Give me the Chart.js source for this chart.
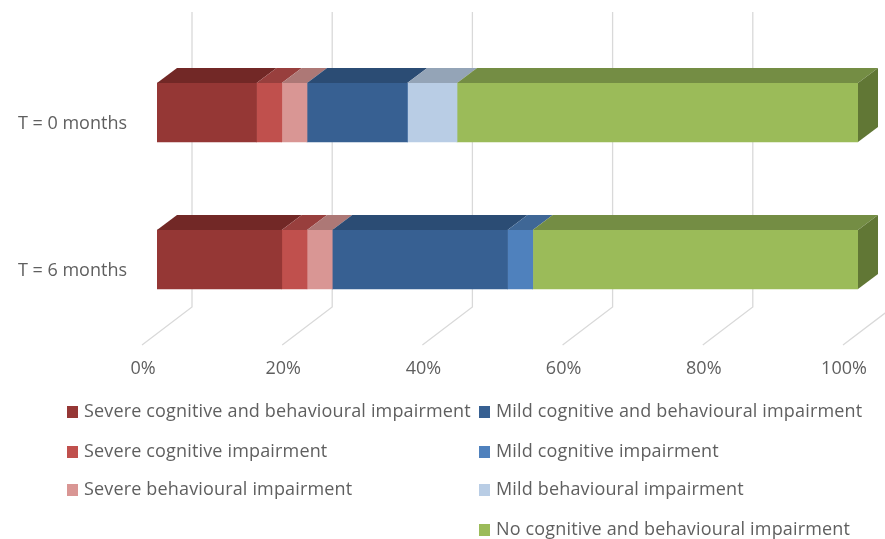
<!DOCTYPE html>
<html>
<head>
<meta charset="utf-8">
<title>Impairment at T = 0 and T = 6 months</title>
<script src="https://cdn.jsdelivr.net/npm/chart.js@4"></script>
<style>
  html, body { margin: 0; padding: 0; background: #fff; }
  #wrap { position: relative; width: 885px; height: 539px; overflow: hidden; }
  #chart { position: absolute; left: 0; top: 0; }
  .key { position: absolute; white-space: nowrap; font: 18px "Open Sans", sans-serif; letter-spacing: 0.16px; color: #5f5f5f; line-height: 20px; }
  .key i { position: absolute; left: -17px; top: 6px; width: 11px; height: 12px; }
</style>
</head>
<body>
<div id="wrap">
  <canvas id="chart" width="885" height="539"></canvas>
</div>
<script>
const categories = ['T = 0 months', 'T = 6 months'];
const tickLabels = ['0%', '20%', '40%', '60%', '80%', '100%'];

const severeBoth = [14.2, 17.8];
const severeCognitive = [3.6, 3.6];
const severeBehavioural = [3.6, 3.6];
const mildBoth = [14.3, 25.0];
const mildCognitive = [0, 3.6];
const mildBehavioural = [7.1, 0];
const noImpairment = [57.2, 46.4];

// label, values, front colour, top face colour
const series = [
  ['Severe cognitive and behavioural impairment', severeBoth, '#953735', '#722826'],
  ['Severe cognitive impairment', severeCognitive, '#c0504d', '#983f3d'],
  ['Severe behavioural impairment', severeBehavioural, '#d99694', '#ad7876'],
  ['Mild cognitive and behavioural impairment', mildBoth, '#376092', '#2b4c74'],
  ['Mild cognitive impairment', mildCognitive, '#4f81bd', '#3f6796'],
  ['Mild behavioural impairment', mildBehavioural, '#b9cde5', '#94a4b7'],
  ['No cognitive and behavioural impairment', noImpairment, '#9bbb59', '#748d44']
];
const sideColor = '#617735';

// legend slots, [series index, x, y]
const legendSlots = [
  [0, 84, 400], [1, 84, 440], [2, 84, 478],
  [3, 496, 400], [4, 496, 440], [5, 496, 478], [6, 496, 518]
];

// oblique offsets of the fake 3D box
const depthX = 20, depthY = -15;

const box3d = {
  id: 'box3d',
  beforeDatasetsDraw(chart) {
    // back wall and floor gridlines
    const ctx = chart.ctx, xs = chart.scales.x;
    ctx.save();
    ctx.strokeStyle = '#d9d9d9';
    ctx.lineWidth = 1.3;
    tickLabels.forEach((t, i) => {
      const px = xs.getPixelForValue(i * 20);
      ctx.beginPath();
      ctx.moveTo(px + 35, 12);
      ctx.lineTo(px + 35, 307);
      ctx.lineTo(px - 15, 345);
      ctx.stroke();
    });
    ctx.restore();
  },
  afterDatasetsDraw(chart) {
    const ctx = chart.ctx;
    ctx.save();
    chart.data.datasets.forEach((ds, i) => {
      chart.getDatasetMeta(i).data.forEach((bar, j) => {
        if (!ds.data[j]) return;
        const top = bar.y - bar.height / 2;
        ctx.fillStyle = series[i][3];
        ctx.beginPath();
        ctx.moveTo(bar.base, top);
        ctx.lineTo(bar.base + depthX, top + depthY);
        ctx.lineTo(bar.x + depthX, top + depthY);
        ctx.lineTo(bar.x, top);
        ctx.closePath();
        ctx.fill();
        if (i === series.length - 1) {
          ctx.fillStyle = sideColor;
          ctx.beginPath();
          ctx.moveTo(bar.x, top);
          ctx.lineTo(bar.x + depthX, top + depthY);
          ctx.lineTo(bar.x + depthX, top + depthY + bar.height);
          ctx.lineTo(bar.x, top + bar.height);
          ctx.closePath();
          ctx.fill();
        }
      });
    });
    ctx.restore();
  }
};

const chart = new Chart(document.getElementById('chart'), {
  type: 'bar',
  data: {
    labels: categories,
    datasets: series.map(s => ({
      label: s[0],
      data: s[1],
      backgroundColor: s[2],
      borderWidth: 0,
      barThickness: 59
    }))
  },
  options: {
    indexAxis: 'y',
    responsive: false,
    animation: false,
    layout: { padding: { top: 39, right: 27, left: 0, bottom: 0 } },
    plugins: {
      legend: { display: false },
      tooltip: { enabled: false }
    },
    scales: {
      x: {
        stacked: true,
        min: 0,
        max: 100,
        afterFit: scale => {
          scale.height = 206;
          scale.paddingLeft = 0;
          scale.paddingRight = 0;
        },
        grid: { display: false },
        border: { display: false },
        ticks: {
          stepSize: 20,
          maxRotation: 0,
          padding: 17,
          labelOffset: -14,
          color: '#5f5f5f',
          font: { family: '"Open Sans", sans-serif', size: 18 },
          callback: (v) => tickLabels[v / 20]
        }
      },
      y: {
        stacked: true,
        afterFit: scale => {
          scale.width = 157;
          scale.paddingTop = 0;
          scale.paddingBottom = 0;
        },
        grid: { display: false },
        border: { display: false },
        ticks: {
          padding: 22,
          labelOffset: 11,
          color: '#5f5f5f',
          font: { family: '"Open Sans", sans-serif', size: 18 }
        }
      }
    }
  },
  plugins: [box3d]
});

// two column legend, same layout as the source figure
const wrap = document.getElementById('wrap');
legendSlots.forEach(slot => {
  const s = series[slot[0]];
  const el = document.createElement('div');
  el.className = 'key';
  el.style.left = slot[1] + 'px';
  el.style.top = slot[2] + 'px';
  el.textContent = s[0];
  const mark = document.createElement('i');
  mark.style.background = s[2];
  el.appendChild(mark);
  wrap.appendChild(el);
});
</script>
</body>
</html>
